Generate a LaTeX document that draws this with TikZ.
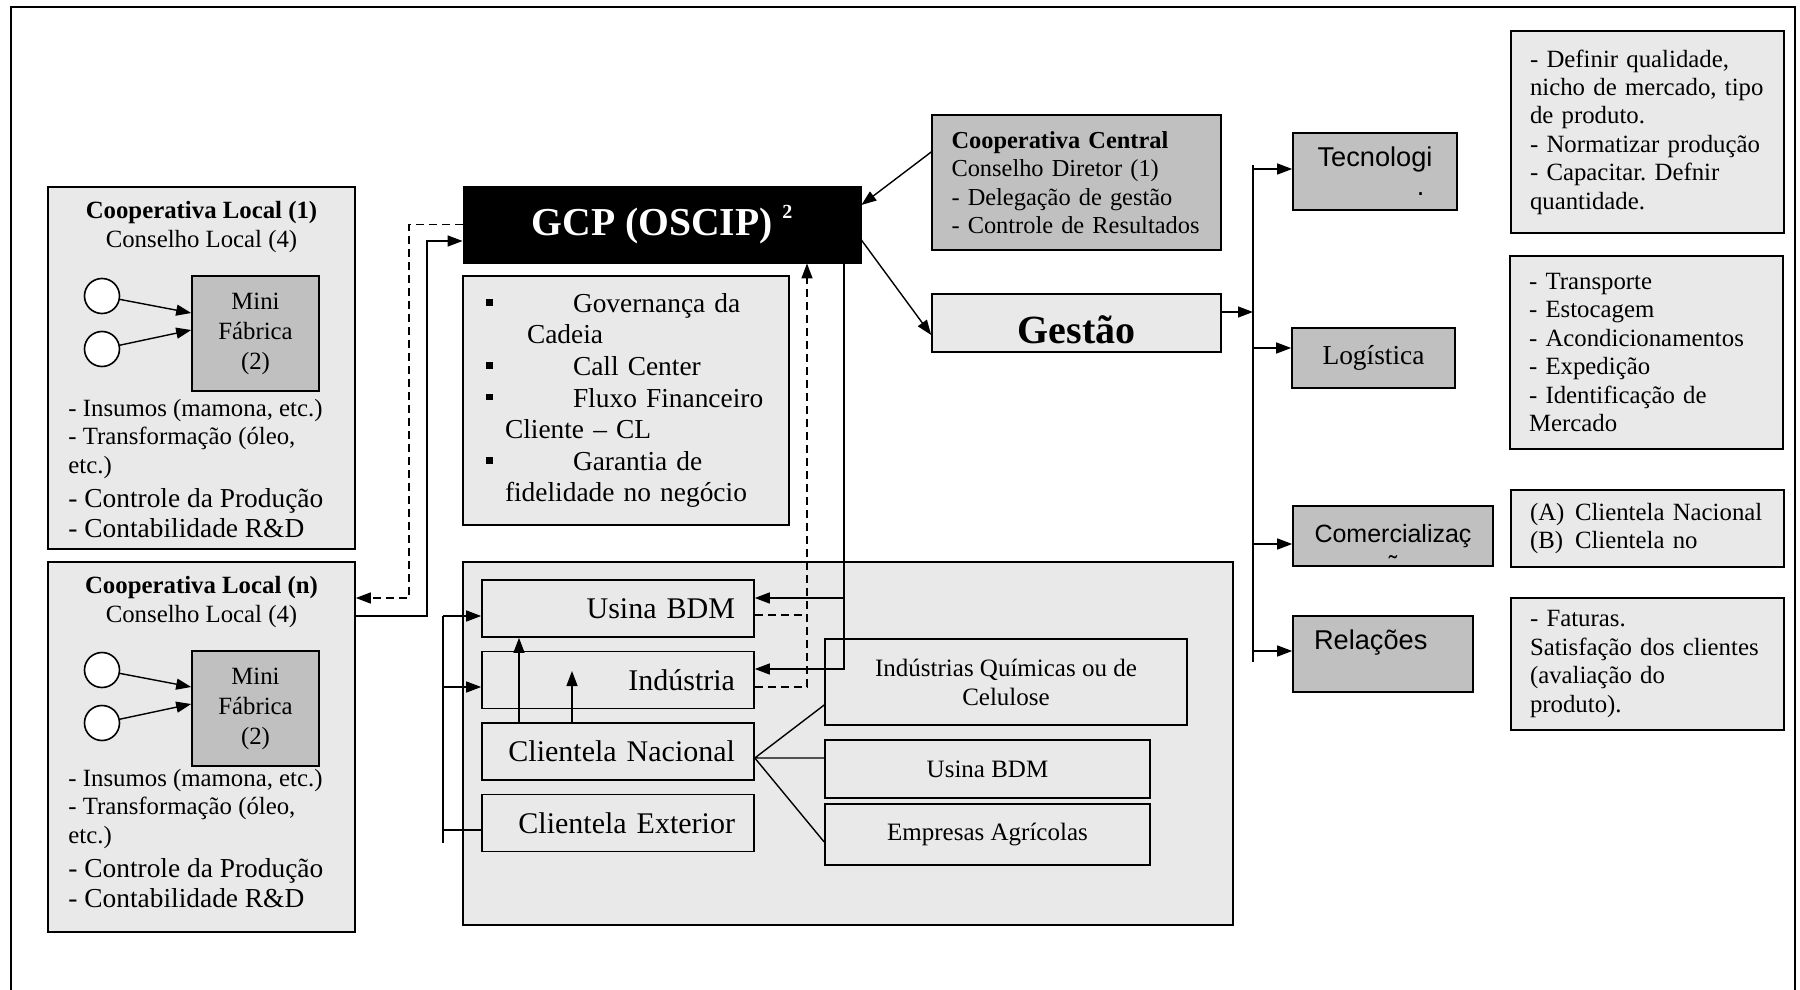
\documentclass[tikz,border=0pt]{standalone}
\usepackage{fontspec}
\setmainfont{Liberation Serif}
\newfontfamily\arialfont{Liberation Sans}
\usepackage{tikz}
\usetikzlibrary{arrows.meta,positioning,calc}
\definecolor{boxlight}{RGB}{233,233,233}
\definecolor{boxdark}{RGB}{192,192,192}
\newcommand{\sqbul}{\makebox[0pt][l]{\rule[3.3pt]{3.3pt}{3.3pt}}}
\frenchspacing

\begin{document}
\begin{tikzpicture}[
    x=0.5pt, y=0.5pt,
    lbox/.style={rectangle, draw, line width=0.8pt, fill=boxlight, inner sep=0pt},
    dbox/.style={rectangle, draw, line width=0.8pt, fill=boxdark, inner sep=0pt},
    txt/.style={font=\fontsize{12.4}{14.2}\selectfont},
    txtb/.style={font=\fontsize{13.7}{15}\selectfont},
    circ/.style={circle, draw, line width=0.8pt, fill=white, minimum size=17.5pt, inner sep=0pt},
    cli/.style={lbox, minimum height=28.5pt, text width=117pt, inner xsep=9.5pt, align=right, font=\fontsize{15}{17}\selectfont},
    seg/.style={lbox, align=center, font=\fontsize{12.5}{14.5}\selectfont},
    notebox/.style={lbox, text width=117.5pt, inner xsep=9.5pt, align=left, txt},
    conn/.style={line width=0.7pt},
    arrow/.style={-{Triangle[length=7.5pt,width=5.5pt]}, line width=0.7pt},
    darrow/.style={arrow, dash pattern=on 4pt off 2.5pt},
    dline/.style={conn, dash pattern=on 4pt off 2.5pt}
]
    \useasboundingbox (0,0) rectangle (1800,-990);
    % Frame
    \draw[line width=0.8pt] (11,-990) -- (11,-7) -- (1795,-7) -- (1795,-990);

    % Cooperativa Local (1)
    \node[lbox, minimum width=153.5pt, minimum height=181pt] (loc1) at (201.5,-368) {};
    \node[align=center, font=\fontsize{12.4}{14.5}\selectfont] (loc1title) at (201.5,-227) {\textbf{Cooperativa Local (1)}\\Conselho Local (4)};
    \node[circ] (c1a) at (102,-296) {};
    \node[circ] (c1b) at (102,-349) {};
    \node[dbox, minimum width=63.5pt, minimum height=57.5pt, align=center, font=\fontsize{12.4}{15}\selectfont] (mini1) at (255.5,-333.5) {Mini\\Fábrica\\(2)};
    \node[txt, anchor=base west, align=left, inner sep=0pt] (list1a) at (68,-473) {- Insumos (mamona, etc.)\\- Transformação (óleo,\\etc.)};
    \node[txtb, anchor=base west, align=left, inner sep=0pt] (list1b) at (68,-537) {- Controle da Produção\\- Contabilidade R\&D};

    % Cooperativa Local (n)
    \node[lbox, minimum width=153.5pt, minimum height=185pt] (locn) at (201.5,-747) {};
    \node[align=center, font=\fontsize{12.4}{14.5}\selectfont] (locntitle) at (201.5,-602) {\textbf{Cooperativa Local (n)}\\Conselho Local (4)};
    \node[circ] (c2a) at (102,-670) {};
    \node[circ] (c2b) at (102,-723) {};
    \node[dbox, minimum width=63.5pt, minimum height=57.5pt, align=center, font=\fontsize{12.4}{15}\selectfont] (minin) at (255.5,-708.5) {Mini\\Fábrica\\(2)};
    \node[txt, anchor=base west, align=left, inner sep=0pt] (listna) at (68,-843) {- Insumos (mamona, etc.)\\- Transformação (óleo,\\etc.)};
    \node[txtb, anchor=base west, align=left, inner sep=0pt] (listnb) at (68,-907) {- Controle da Produção\\- Contabilidade R\&D};

    % GCP
    \node[rectangle, draw, fill=black, minimum width=199pt, minimum height=38.5pt, text=white, font=\fontsize{19.8}{22}\selectfont\bfseries] (gcp) at (662,-224.5) {GCP (OSCIP) \raisebox{8.5pt}{\fontsize{10}{10}\selectfont 2}};
    \node[lbox, minimum width=163pt, minimum height=124.5pt, text width=140pt, inner xsep=11.5pt, align=left, font=\fontsize{13.7}{15.8}\selectfont] (gov) at (626,-400.5) {\sqbul\hspace*{43.5pt}Governança da\\\hspace*{20.5pt}Cadeia\\\sqbul\hspace*{43.5pt}Call Center\\\sqbul\hspace*{43.5pt}Fluxo Financeiro\\\hspace*{9.5pt}Cliente -- CL\\\sqbul\hspace*{43.5pt}Garantia de\\\hspace*{9.5pt}fidelidade no negócio};

    % Clientela
    \node[lbox, minimum width=385pt, minimum height=181.5pt] (area) at (848,-743.5) {};
    \node[cli] (usina1) at (618,-608.5) {Usina BDM};
    \node[cli] (industria) at (618,-680) {Indústria};
    \node[cli] (nacional) at (618,-751.5) {Clientela Nacional};
    \node[cli] (exterior) at (618,-823) {Clientela Exterior};
    \node[seg, minimum width=181pt, minimum height=43pt] (quimicas) at (1006,-682) {Indústrias Químicas ou de\\Celulose};
    \node[seg, minimum width=162.5pt, minimum height=29pt] (usina2) at (987.5,-769) {Usina BDM};
    \node[seg, minimum width=162.5pt, minimum height=30.5pt] (empresas) at (987.5,-834.5) {Empresas Agrícolas};

    % Central and Gestao
    \node[dbox, minimum width=144.5pt, minimum height=67.5pt, text width=125pt, inner xsep=9.75pt, align=left, font=\fontsize{12.2}{14.2}\selectfont] (central) at (1076.5,-182.5) {\textbf{Cooperativa Central}\\Conselho Diretor (1)\\- Delegação de gestão\\- Controle de Resultados};
    \node[lbox, minimum width=144.5pt, minimum height=29pt, text height=20pt, text depth=0pt, font=\fontsize{20}{22}\selectfont\bfseries] (gestao) at (1076.5,-323) {Gestão};

    % Areas de gestao
    \node[dbox, minimum width=82pt, minimum height=38.5pt, align=right, font=\arialfont\fontsize{13.6}{14.5}\selectfont] (tec) at (1375,-171.5) {Tecnologi\\.\hspace*{4pt}};
    \node[dbox, minimum width=81.5pt, minimum height=30pt, font=\fontsize{13.7}{15}\selectfont] (log) at (1373.5,-358) {Logística};
    \node[dbox, minimum width=100pt, minimum height=30pt, font=\arialfont\fontsize{12.5}{14}\selectfont] (com) at (1393,-536) {Comercializaç};
    \node[inner sep=0pt, font=\arialfont\fontsize{12.5}{14}\selectfont] (comrest) at (1393,-565) {˜};
    \node[dbox, minimum width=90pt, minimum height=38pt, text width=69pt, inner xsep=10.5pt, align=left, text height=10pt, text depth=15pt, font=\arialfont\fontsize{13.6}{14.5}\selectfont] (rel) at (1383,-654) {Relações};

    % Notas
    \node[notebox, minimum height=101pt] (def) at (1647.5,-132) {- Definir qualidade,\\nicho de mercado, tipo\\de produto.\\- Normatizar produção\\- Capacitar. Defnir\\quantidade.};
    \node[notebox, minimum height=96.5pt] (trans) at (1646.5,-352.5) {- Transporte\\- Estocagem\\- Acondicionamentos\\- Expedição\\- Identificação de\\Mercado};
    \node[notebox, minimum height=38.5pt] (cliente) at (1647.5,-528.5) {\makebox[22.5pt][l]{(A)}Clientela Nacional\\\makebox[22.5pt][l]{(B)}Clientela no};
    \node[notebox, minimum height=66pt] (fat) at (1647.5,-664) {- Faturas.\\Satisfação dos clientes\\(avaliação do\\produto).};

    % Arrows inside the cooperatives
    \draw[arrow] (c1a) -- ($(mini1.west)+(0,20.5)$);
    \draw[arrow] (c1b) -- ($(mini1.west)+(0,3.5)$);
    \draw[arrow] (c2a) -- ($(minin.west)+(0,21.5)$);
    \draw[arrow] (c2b) -- ($(minin.west)+(0,4.5)$);

    % GCP and cooperatives
    \draw[darrow] (gcp.west) -| (409,-598) -- (locn.east |- 0,-598);
    \draw[arrow] (locn.east |- 0,-616) -| (427,-241) -- (gcp.west |- 0,-241);
    \draw[arrow] (central.west |- 0,-152) -- ($(gcp.east)+(0,19.5)$);
    \draw[arrow] ($(gcp.east)+(0,-15.5)$) -- ($(gestao.west)+(0,-12)$);

    % Gestao bus
    \coordinate (busR1) at (1253,-165);
    \coordinate (busR2) at (1253,-662);
    \draw[conn] (busR1) -- (busR2);
    \draw[arrow] ($(gestao.east)+(0,11)$) coordinate (g1) -- (g1 -| busR1);
    \foreach \n/\d in {tec/2.5, log/10, com/-8, rel/3}
        \draw[arrow] ($(\n.west -| busR1)+(0,\d)$) -- ($(\n.west)+(0,\d)$);

    % GCP to clientela
    \coordinate (tap) at (844,-598);
    \draw[arrow] (gcp.south -| tap) |- ($(industria.east)+(0,11)$);
    \draw[arrow] (tap) -- (usina1.east |- tap);
    \coordinate (dtap) at (807,-615);
    \draw[dline] ($(usina1.east)+(0,-6.5)$) -- (dtap);
    \draw[darrow] ($(industria.east)+(0,-7)$) -| (gcp.south -| dtap);

    % Clientela Nacional
    \draw[arrow] (nacional.north -| 519,0) -- (usina1.south -| 519,0);
    \draw[arrow] (nacional.north -| 572,0) -- ($(industria.center -| 572,0)+(0,9)$);
    \coordinate (nacE) at ($(nacional.east)+(0,-6.5)$);
    \draw[conn] (quimicas.south west |- 0,-705) -- (nacE) -- (usina2.west |- nacE);
    \draw[conn] (nacE) -- ($(empresas.west)+(0,-7.5)$);

    % Left bus
    \coordinate (busL1) at (443,-616);
    \coordinate (busL2) at (443,-843);
    \draw[conn] (busL1) -- (busL2);
    \draw[arrow] (busL1) -- (usina1.west |- busL1);
    \draw[arrow] ($(industria.west -| busL1)+(0,-7)$) -- ($(industria.west)+(0,-7)$);
    \draw[conn] ($(exterior.west -| busL1)+(0,-7)$) -- ($(exterior.west)+(0,-7)$);
\end{tikzpicture}
\end{document}
